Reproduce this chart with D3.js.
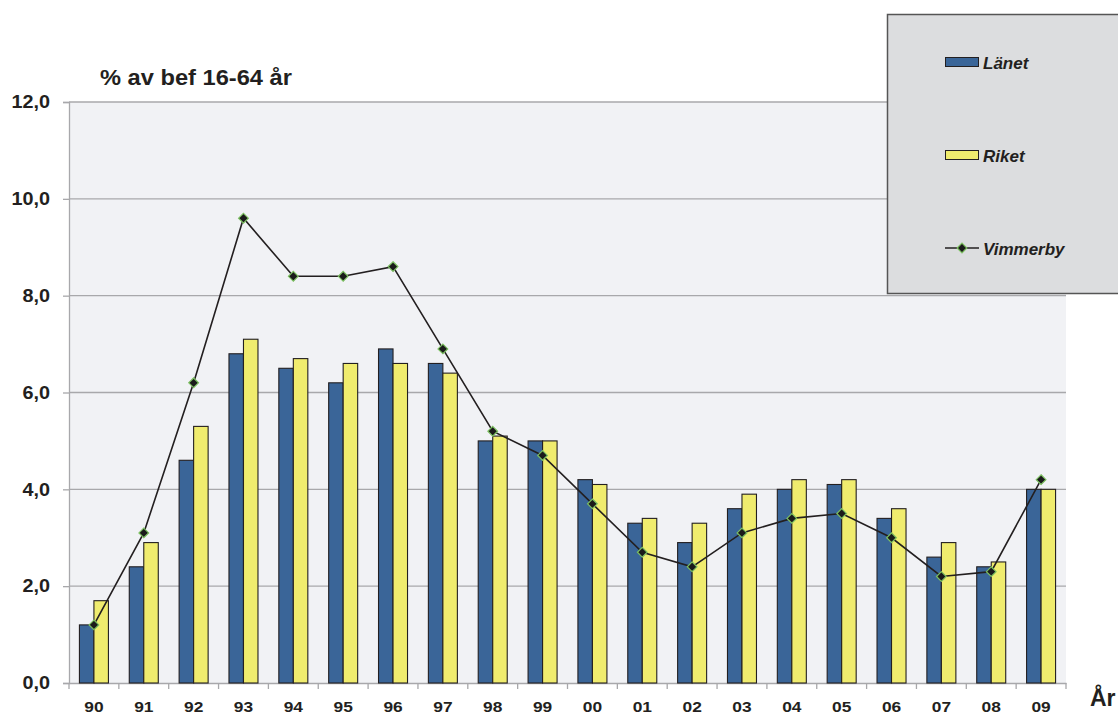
<!DOCTYPE html>
<html>
<head>
<meta charset="utf-8">
<script src="https://cdn.jsdelivr.net/npm/d3@7.9.0/dist/d3.min.js"></script>
<style>
  body { margin: 0; background: #fff; }
  svg { font-family: "Liberation Sans", Arial, sans-serif; }
</style>
</head>
<body>
<svg id="chart" width="1118" height="716"></svg>
<script>
// year labels
const years = ['90','91','92','93','94','95','96','97','98','99','00','01','02','03','04','05','06','07','08','09'];
// Länet (bars, blue)
const lanet = [1.2, 2.4, 4.6, 6.8, 6.5, 6.2, 6.9, 6.6, 5.0, 5.0, 4.2, 3.3, 2.9, 3.6, 4.0, 4.1, 3.4, 2.6, 2.4, 4.0];
// Riket (bars, yellow)
const riket = [1.7, 2.9, 5.3, 7.1, 6.7, 6.6, 6.6, 6.4, 5.1, 5.0, 4.1, 3.4, 3.3, 3.9, 4.2, 4.2, 3.6, 2.9, 2.5, 4.0];
// Vimmerby (line)
const vimmerby = [1.2, 3.1, 6.2, 9.6, 8.4, 8.4, 8.6, 6.9, 5.2, 4.7, 3.7, 2.7, 2.4, 3.1, 3.4, 3.5, 3.0, 2.2, 2.3, 4.2];
const yTicks = [0, 2, 4, 6, 8, 10, 12];

const svg = d3.select('#chart');
const plotL = 69, plotR = 1066, plotT = 102, plotB = 683;

const x = d3.scaleBand().domain(years).range([plotL, plotR]);
const y = d3.scaleLinear().domain([0, 12]).range([plotB, plotT]);
const fmt = (v) => d3.format('.1f')(v).replace('.', ',');
const ink = '#231f20';

// plot background
svg.append('rect')
  .attr('x', plotL).attr('y', plotT)
  .attr('width', plotR - plotL).attr('height', plotB - plotT)
  .attr('fill', '#f1f2f5');

// gridlines
svg.append('g')
  .selectAll('line')
  .data(yTicks.filter((d) => d > 0))
  .join('line')
  .attr('x1', plotL).attr('x2', plotR)
  .attr('y1', (d) => y(d)).attr('y2', (d) => y(d))
  .attr('stroke', '#a8a8ab').attr('stroke-width', 1.3);

// y axis (labels slightly stretched like the original)
const yAxis = svg.append('g')
  .attr('transform', `translate(${plotL},0)`)
  .call(d3.axisLeft(y).tickValues(yTicks).tickFormat(fmt).tickSize(6).tickPadding(0));
yAxis.select('.domain').attr('stroke', '#a8a8ab').attr('stroke-width', 1.3);
yAxis.selectAll('.tick line').attr('stroke', '#a8a8ab').attr('stroke-width', 1.3);
yAxis.selectAll('.tick text')
  .attr('x', 0)
  .attr('transform', 'translate(-19,0) scale(1.1,1)')
  .attr('font-size', 18).attr('font-weight', 'bold').attr('fill', ink)
  .attr('font-family', '"Liberation Sans", Arial, sans-serif');

// x axis
const xAxis = svg.append('g')
  .attr('transform', `translate(0,${plotB})`)
  .call(d3.axisBottom(x).tickSize(0).tickPadding(0));
xAxis.select('.domain').attr('stroke', '#a8a8ab').attr('stroke-width', 1.3);
xAxis.selectAll('.tick text')
  .attr('y', 0)
  .attr('dy', 0)
  .attr('transform', 'translate(0,29) scale(1.12,1)')
  .attr('font-size', 15.5).attr('font-weight', 'bold').attr('fill', ink)
  .attr('font-family', '"Liberation Sans", Arial, sans-serif');
// ticks between categories
svg.append('g')
  .selectAll('line')
  .data(d3.range(years.length + 1))
  .join('line')
  .attr('x1', (i) => plotL + i * x.bandwidth()).attr('x2', (i) => plotL + i * x.bandwidth())
  .attr('y1', plotB).attr('y2', plotB + 6)
  .attr('stroke', '#a8a8ab').attr('stroke-width', 1.3);

// bars
const barW = 14.5;
const groups = svg.append('g')
  .selectAll('g')
  .data(years)
  .join('g')
  .attr('transform', (d) => `translate(${x(d) + x.bandwidth() / 2},0)`);

groups.append('rect')
  .attr('x', -barW).attr('width', barW)
  .attr('y', (d, i) => y(lanet[i]))
  .attr('height', (d, i) => plotB - y(lanet[i]))
  .attr('fill', '#3a6598').attr('stroke', ink).attr('stroke-width', 1.1);

groups.append('rect')
  .attr('x', 0).attr('width', barW)
  .attr('y', (d, i) => y(riket[i]))
  .attr('height', (d, i) => plotB - y(riket[i]))
  .attr('fill', '#f0ec6e').attr('stroke', ink).attr('stroke-width', 1.1);

// Vimmerby line
const line = d3.line()
  .x((d, i) => x(years[i]) + x.bandwidth() / 2)
  .y((d) => y(d));
svg.append('path')
  .datum(vimmerby)
  .attr('d', line)
  .attr('fill', 'none').attr('stroke', ink).attr('stroke-width', 1.6);

const diamond = d3.symbol().type(d3.symbolDiamond2).size(60);
svg.append('g')
  .selectAll('path')
  .data(vimmerby)
  .join('path')
  .attr('d', diamond)
  .attr('transform', (d, i) => `translate(${x(years[i]) + x.bandwidth() / 2},${y(d)})`)
  .attr('fill', '#1b1b1b').attr('stroke', '#7cc060').attr('stroke-width', 1.2);

// titles
svg.append('text')
  .attr('transform', 'translate(100,85) scale(1.1,1)')
  .attr('font-size', 21.5).attr('font-weight', 'bold').attr('fill', ink)
  .text('% av bef 16-64 år');
svg.append('text')
  .attr('x', 1090).attr('y', 706)
  .attr('font-size', 23).attr('font-weight', 'bold').attr('fill', ink)
  .text('År');

// legend
const legend = svg.append('g');
legend.append('rect')
  .attr('x', 887.5).attr('y', 14.5)
  .attr('width', 240).attr('height', 279)
  .attr('fill', '#dcdddf').attr('stroke', '#555').attr('stroke-width', 1.5);

const legendItems = [
  { name: 'Länet', type: 'bar', color: '#3a6598', yy: 62 },
  { name: 'Riket', type: 'bar', color: '#f0ec6e', yy: 155 },
  { name: 'Vimmerby', type: 'line', yy: 248 },
];
legendItems.forEach((it) => {
  if (it.type === 'bar') {
    legend.append('rect')
      .attr('x', 945.5).attr('y', it.yy - 4.5)
      .attr('width', 33).attr('height', 9)
      .attr('fill', it.color).attr('stroke', ink).attr('stroke-width', 1);
  } else {
    legend.append('line')
      .attr('x1', 945).attr('x2', 979)
      .attr('y1', it.yy).attr('y2', it.yy)
      .attr('stroke', ink).attr('stroke-width', 1.5);
    legend.append('path')
      .attr('d', diamond)
      .attr('transform', `translate(962,${it.yy})`)
      .attr('fill', '#1b1b1b').attr('stroke', '#7cc060').attr('stroke-width', 1.2);
  }
  legend.append('text')
    .attr('x', 983).attr('y', it.yy + 6.5)
    .attr('font-size', 17).attr('font-weight', 'bold').attr('font-style', 'italic')
    .attr('fill', ink)
    .text(it.name);
});
</script>
</body>
</html>
